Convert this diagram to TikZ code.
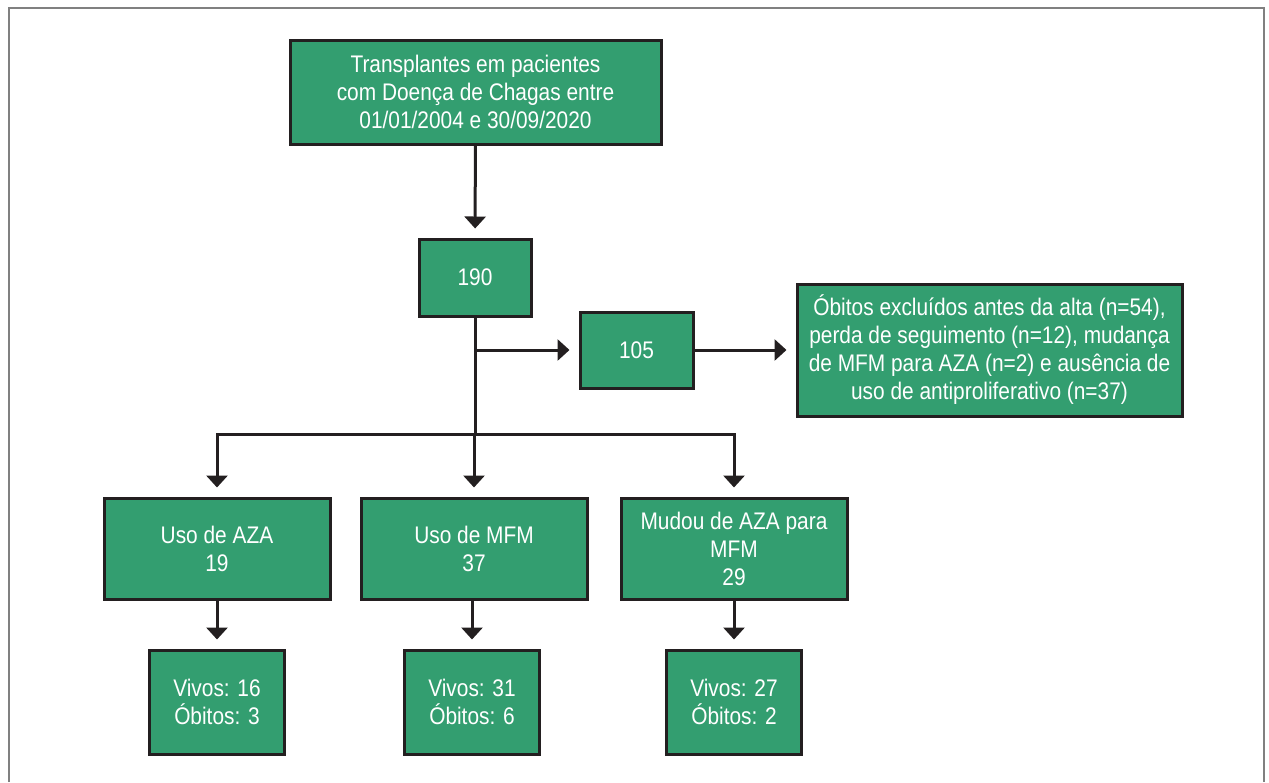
\documentclass[tikz,border=0pt]{standalone}
\usepackage{fontspec}
\setmainfont{Liberation Sans}[FakeStretch=0.87]
\usetikzlibrary{arrows.meta}
\definecolor{boxgreen}{RGB}{51,158,112}
\definecolor{boxline}{RGB}{35,31,32}
\definecolor{framegray}{RGB}{128,128,128}
\begin{document}
\begin{tikzpicture}[x=1pt,y=-1pt,
  box/.style={draw=boxline, line width=3pt, fill=boxgreen, text=white, align=center,
    inner sep=0pt, font=\fontsize{24}{28}\selectfont},
  wire/.style={draw=boxline, line width=3pt},
  conn/.style={wire, -{Triangle[width=21pt,length=12pt]}, shorten >=9pt}]
\useasboundingbox (0,0) rectangle (1269,782);
\draw[framegray, line width=1.5pt] (9,782) -- (9,8) -- (1264,8) -- (1264,782);

\node[box, minimum width=371pt, minimum height=104pt] (top) at (475.5,92)
  {Transplantes em pacientes\\com Doença de Chagas entre\\01/01/2004 e 30/09/2020};
\node[box, minimum width=112pt, minimum height=77pt] (n190) at (475,277.5) {190};
\node[box, minimum width=113pt, minimum height=76pt] (n105) at (636.5,350) {105};
\node[box, minimum width=385pt, minimum height=132pt] (excl) at (989.5,350)
  {Óbitos excluídos antes da alta (n=54),\\perda de seguimento (n=12), mudança\\de MFM para AZA (n=2) e ausência de\\uso de antiproliferativo (n=37)};
\node[box, minimum width=226pt, minimum height=101pt] (aza) at (217,548.5) {Uso de AZA\\19};
\node[box, minimum width=226pt, minimum height=101pt] (mfm) at (474,548.5) {Uso de MFM\\37};
\node[box, minimum width=226pt, minimum height=101pt] (mud) at (734,548.5) {Mudou de AZA para\\MFM\\29};
\node[box, minimum width=135pt, minimum height=104pt] (v1) at (217,702) {Vivos: 16\\Óbitos: 3};
\node[box, minimum width=135pt, minimum height=104pt] (v2) at (472,702) {Vivos: 31\\Óbitos: 6};
\node[box, minimum width=135pt, minimum height=104pt] (v3) at (734,702) {Vivos: 27\\Óbitos: 2};

\coordinate (j) at (475,350);
\coordinate (bar) at (475,434);
\coordinate (barL) at (217,434);
\coordinate (barM) at (474,434);
\coordinate (barR) at (734,434);

\draw[conn] (top) -- (n190);
\draw[wire] (n190.south) -- (bar);
\draw[wire, line cap=rect] (barL) -- (barR);
\draw[conn] (j) -- (n105);
\draw[conn] (n105) -- (excl);
\draw[conn] (barL) -- (aza);
\draw[conn] (barM) -- (mfm);
\draw[conn] (barR) -- (mud);
\draw[conn] (aza) -- (v1);
\draw[conn] (mfm.south -| v2) -- (v2);
\draw[conn] (mud) -- (v3);
\end{tikzpicture}
\end{document}
